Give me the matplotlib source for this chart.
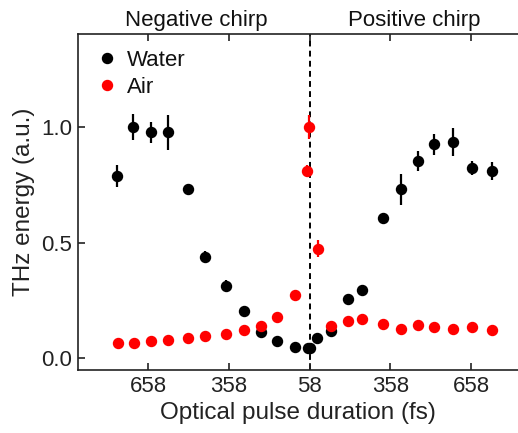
import matplotlib
matplotlib.use("Agg")
from matplotlib import pyplot as plt
from matplotlib.lines import Line2D

# chirp offset (fs) relative to the 58 fs transform-limited pulse
water_x = [-717, -656, -590, -528, -454, -389, -312, -245, -181, -123, -56, -6, 1,
           28, 78, 141, 194, 274, 338, 404, 463, 534, 605, 679]
water_y = [0.788, 0.999, 0.976, 0.976, 0.732, 0.439, 0.314, 0.206, 0.114, 0.075, 0.049, 0.043, 0.046,
           0.090, 0.118, 0.256, 0.295, 0.607, 0.730, 0.852, 0.924, 0.933, 0.823, 0.809]
water_err = [0.047, 0.055, 0.045, 0.075, 0.022, 0.024, 0.024, 0.008, 0.005, 0.005, 0.005, 0.005, 0.005,
             0.005, 0.008, 0.023, 0.008, 0.008, 0.067, 0.045, 0.045, 0.06, 0.03, 0.04]

air_x = [-715, -653, -589, -526, -454, -389, -312, -243, -181, -123, -56, -9, -1,
         30, 78, 141, 194, 273, 338, 404, 463, 534, 605, 679]
air_y = [0.065, 0.067, 0.075, 0.080, 0.089, 0.095, 0.106, 0.124, 0.142, 0.178, 0.275, 0.809, 0.999,
         0.473, 0.141, 0.161, 0.170, 0.148, 0.128, 0.144, 0.134, 0.125, 0.135, 0.124]
air_err = [0.004, 0.004, 0.004, 0.004, 0.004, 0.004, 0.004, 0.004, 0.004, 0.004, 0.004, 0.025, 0.05,
           0.037, 0.004, 0.004, 0.004, 0.004, 0.004, 0.004, 0.004, 0.004, 0.004, 0.004]

tick_pos = [-600, -300, 0, 300, 600]
tick_labels = ["658", "358", "58", "358", "658"]

plt.rcParams["font.family"] = ["Liberation Sans", "DejaVu Sans"]

fig = plt.figure(figsize=(5.18, 4.33), dpi=100)
ax = fig.add_axes([0.1506, 0.1455, 0.8494, 0.776])

ax.axvline(0, color="black", linestyle=(0, (3, 2.2)), linewidth=1.4, zorder=1)

ax.errorbar(water_x, water_y, yerr=water_err, fmt="o", color="black", ms=7.2,
            elinewidth=1.6, capsize=0, zorder=3)
ax.errorbar(air_x, air_y, yerr=air_err, fmt="o", color="#ff0000", ms=7.2,
            elinewidth=1.6, capsize=0, zorder=4)

ax.set_xlim(-862, 775)
ax.set_ylim(-0.05, 1.4)
ax.set_xticks(tick_pos)
ax.set_xticklabels(tick_labels)
ax.set_yticks([0, 0.5, 1.0])
ax.set_yticklabels(["0.0", "0.5", "1.0"])
ax.tick_params(direction="in", length=5, width=1.2, labelsize=16, colors="#222222",
               top=True, pad=4)
ax.tick_params(axis="x", pad=4)

for side in ["left", "bottom", "top"]:
    ax.spines[side].set_linewidth(1.2)
    ax.spines[side].set_color("#222222")
ax.spines["right"].set_visible(False)

ax.set_xlabel("Optical pulse duration (fs)", fontsize=17.5, color="#222222", labelpad=4)
ax.set_ylabel("THz energy (a.u.)", fontsize=17.5, color="#222222", labelpad=5)

ax.text(-421, 1.4345, "Negative chirp", fontsize=16, ha="center", va="baseline",
        color="#111111", clip_on=False)
ax.text(390, 1.4345, "Positive chirp", fontsize=16, ha="center", va="baseline",
        color="#111111", clip_on=False)

handles = [Line2D([], [], ls="none", marker="o", ms=7.2, color="black"),
           Line2D([], [], ls="none", marker="o", ms=7.2, color="#ff0000")]
leg = ax.legend(handles, ["Water", "Air"], loc="upper left", bbox_to_anchor=(0.011, 1.0),
                frameon=False, fontsize=16, handlelength=0.8, handletextpad=0.5,
                labelspacing=0.3, borderaxespad=0.3, borderpad=0.4)
for t in leg.get_texts():
    t.set_color("#111111")

fig.savefig("out.png", dpi=100)
